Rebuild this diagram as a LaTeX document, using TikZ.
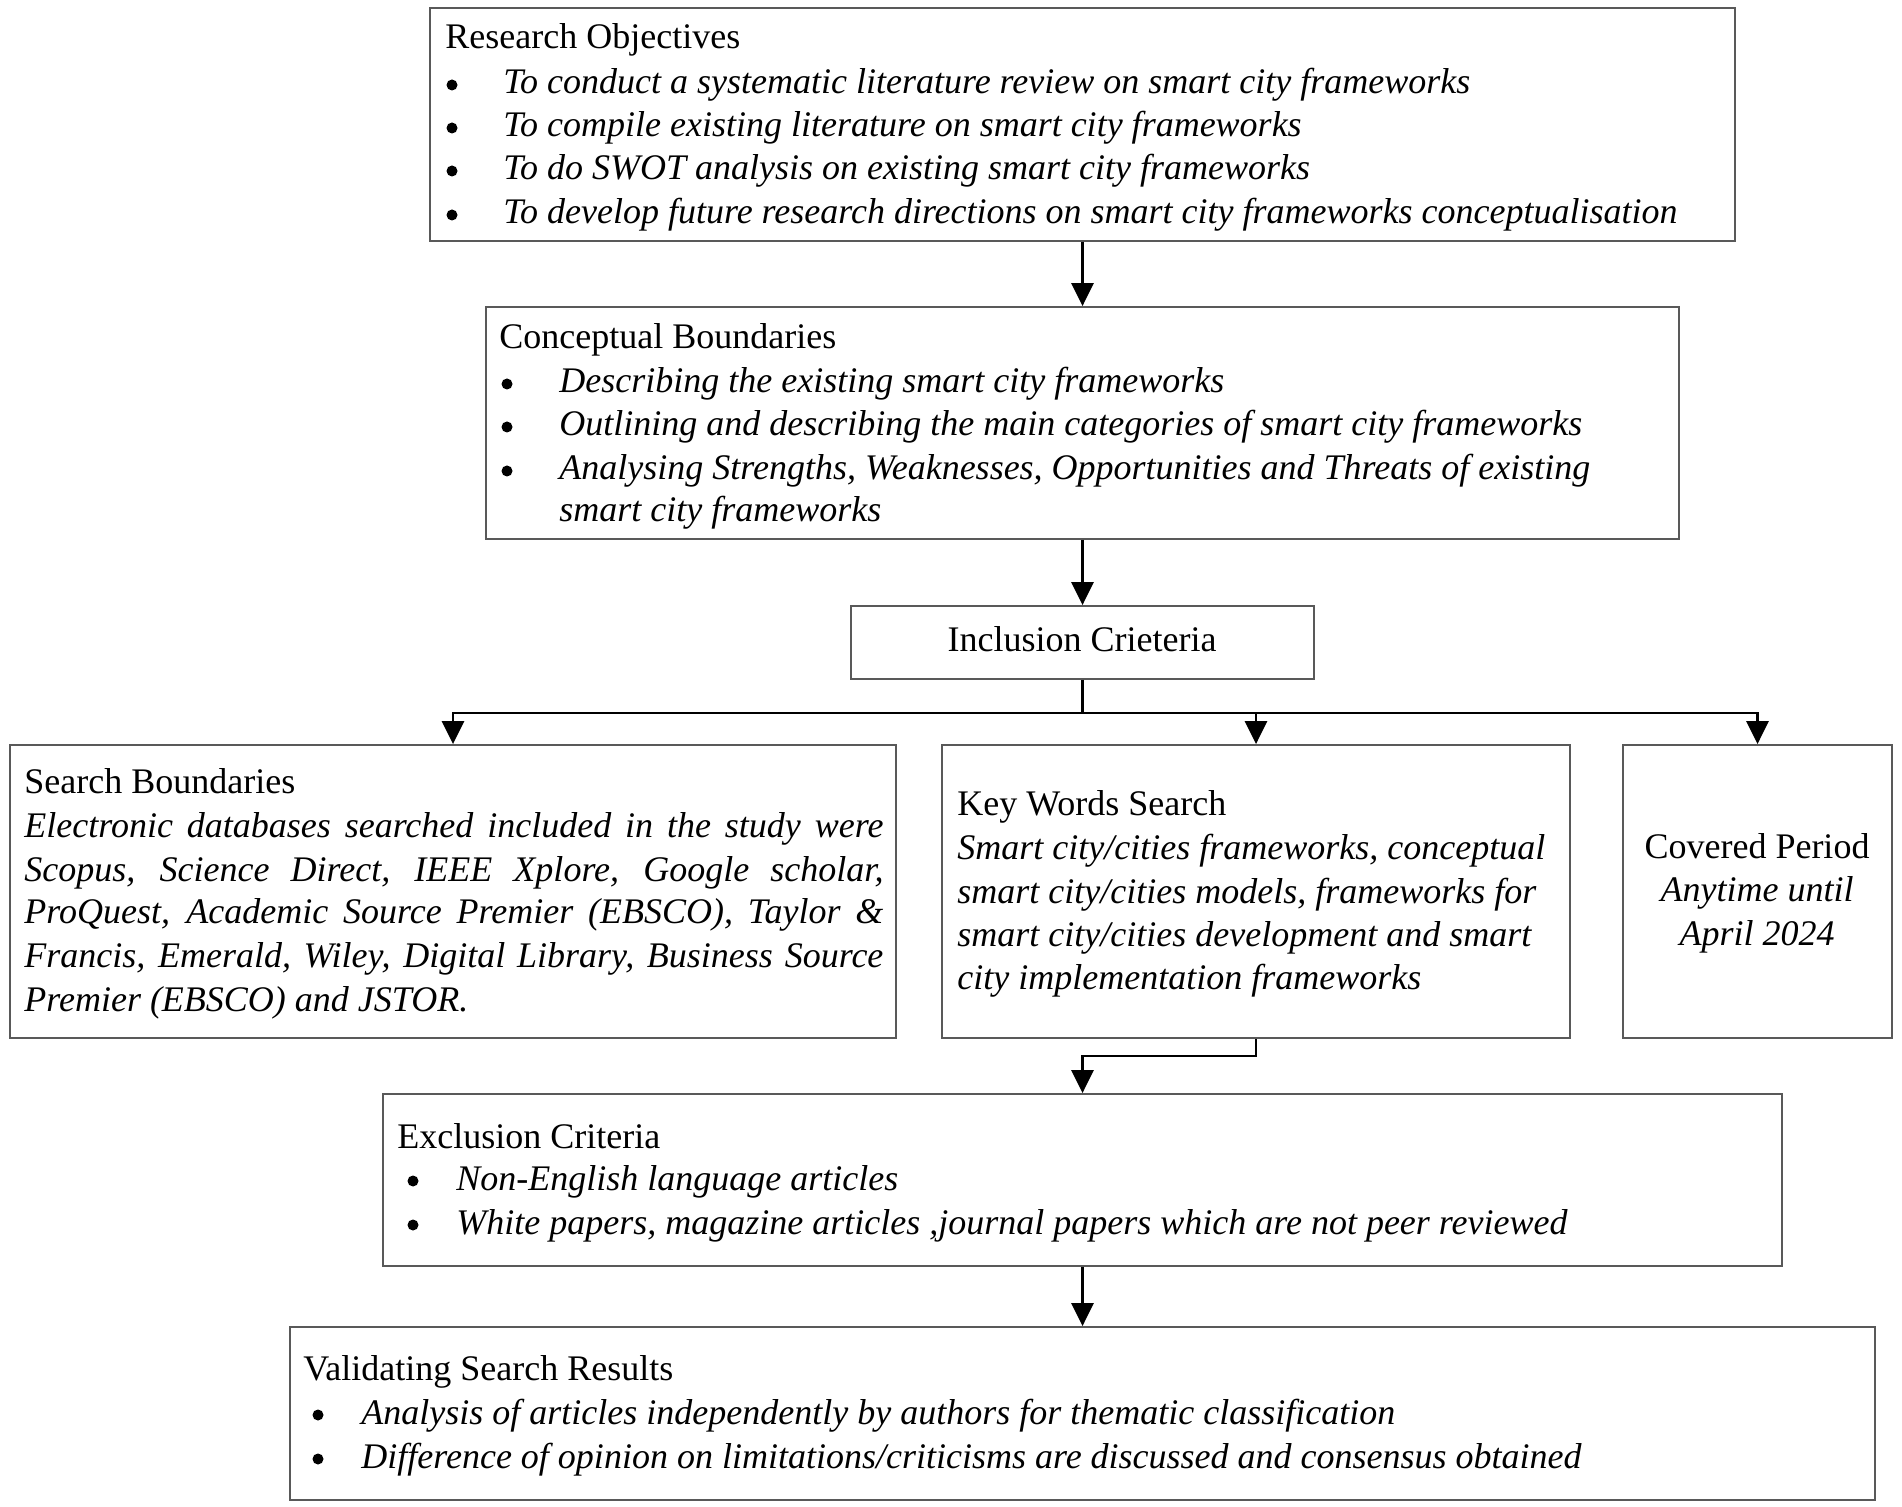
\documentclass[tikz,border=0pt]{standalone}
\usepackage{fontspec}
\setmainfont{Liberation Serif}
\usetikzlibrary{arrows.meta,fit}
\newdimen\uu \uu=0.5pt
\tikzset{
  box/.style={draw=black!65, line width=0.9pt, inner sep=0pt, fill=none},
  ttl/.style={inner sep=0pt, anchor=base west, font=\fontsize{18}{21.75}\selectfont},
  ctr/.style={inner sep=0pt, anchor=base, font=\fontsize{18}{21.75}\selectfont},
  itx/.style={inner sep=0pt, anchor=base west, font=\fontsize{18}{21.75}\selectfont\itshape},
  citx/.style={inner sep=0pt, anchor=base, font=\fontsize{18}{21.75}\selectfont\itshape},
  dot/.style={circle, fill=black, inner sep=0pt, minimum size=11\uu},
  conn/.style={line width=1.4pt, black},
  arr/.style={conn, -{Triangle[length=11.5pt,width=11pt]}}
}
\newcommand\mkbox[3]{\path (#2) coordinate (#1-a) (#3) coordinate (#1-b);
  \node[box, fit=(#1-a)(#1-b)] (#1) {};}
\begin{document}
\begin{tikzpicture}[x=0.5pt,y=-0.5pt]
\useasboundingbox[fill=white] (0,0) rectangle (1902,1507);
% boxes
\mkbox{ro}{430,8}{1735,241}
\mkbox{cb}{486,307}{1679,539}
\mkbox{ic}{851,606}{1314,679}
\mkbox{sb}{10,745}{896,1038}
\mkbox{kw}{942,745}{1570,1038}
\mkbox{cp}{1623,745}{1892,1038}
\mkbox{ec}{383,1094}{1782,1266}
\mkbox{vs}{290,1327}{1875,1500}
% Research Objectives
\node[ttl] (ro-t) at (445,49) {Research Objectives};
\node[dot] (ro-b1) at (452,85) {};
\node[itx] (ro-1) at (503,94) {To conduct a systematic literature review on smart city frameworks};
\node[dot] (ro-b2) at (452,128) {};
\node[itx] (ro-2) at (503,137) {To compile existing literature on smart city frameworks};
\node[dot] (ro-b3) at (452,171) {};
\node[itx] (ro-3) at (503,180) {To do SWOT analysis on existing smart city frameworks};
\node[dot] (ro-b4) at (452,215) {};
\node[itx] (ro-4) at (503,224) {To develop future research directions on smart city frameworks conceptualisation};
% Conceptual Boundaries
\node[ttl] (cb-t) at (499,349) {Conceptual Boundaries};
\node[dot] (cb-b1) at (507,384) {};
\node[itx] (cb-1) at (559,393) {Describing the existing smart city frameworks};
\node[dot] (cb-b2) at (507,427) {};
\node[itx] (cb-2) at (559,436) {Outlining and describing the main categories of smart city frameworks};
\node[dot] (cb-b3) at (507,471) {};
\node[itx] (cb-3) at (559,480) {Analysing Strengths, Weaknesses, Opportunities and Threats of existing};
\node[itx] (cb-4) at (559,522) {smart city frameworks};
% Inclusion
\node[ctr] (ic-t) at (1082,652) {Inclusion Crieteria};
% Search Boundaries
\node[ttl] (sb-t) at (24,794) {Search Boundaries};
\node[itx] (sb-1) at (24,838) {\makebox[859\uu][s]{Electronic databases searched included in the study were}};
\node[itx] (sb-2) at (24,882) {\makebox[859\uu][s]{Scopus, Science Direct, IEEE Xplore, Google scholar,}};
\node[itx] (sb-3) at (24,924) {\makebox[859\uu][s]{ProQuest, Academic Source Premier (EBSCO), Taylor \&}};
\node[itx] (sb-4) at (24,968) {\makebox[859\uu][s]{Francis, Emerald, Wiley, Digital Library, Business Source}};
\node[itx] (sb-5) at (24,1012) {Premier (EBSCO) and JSTOR.};
% Key Words
\node[ttl] (kw-t) at (957,816) {Key Words Search};
\node[itx] (kw-1) at (957,860) {Smart city/cities frameworks, conceptual};
\node[itx] (kw-2) at (957,904) {smart city/cities models, frameworks for};
\node[itx] (kw-3) at (957,947) {smart city/cities development and smart};
\node[itx] (kw-4) at (957,990) {city implementation frameworks};
% Covered Period
\node[ctr] (cp-t) at (1757,859) {Covered Period};
\node[citx] (cp-1) at (1757,902) {Anytime until};
\node[citx] (cp-2) at (1757,946) {April 2024};
% Exclusion
\node[ttl] (ec-t) at (397,1148) {Exclusion Criteria};
\node[dot] (ec-b1) at (413,1181) {};
\node[itx] (ec-1) at (456,1190) {Non-English language articles};
\node[dot] (ec-b2) at (413,1225) {};
\node[itx] (ec-2) at (456,1234) {White papers, magazine articles ,journal papers which are not peer reviewed};
% Validating
\node[ttl] (vs-t) at (303,1380) {Validating Search Results};
\node[dot] (vs-b1) at (318,1415) {};
\node[itx] (vs-1) at (361,1424) {Analysis of articles independently by authors for thematic classification};
\node[dot] (vs-b2) at (318,1459) {};
\node[itx] (vs-2) at (361,1468) {Difference of opinion on limitations/criticisms are discussed and consensus obtained};
% connectors
\draw[arr] (ro.south) -- (cb.north);
\draw[arr] (cb.south) -- (ic.north);
\coordinate (split) at (ic.south |- 0,713);
\draw[conn] (ic.south) -- (split);
\draw[arr] (split) -| (sb.north);
\draw[arr] (split) -| (kw.north);
\draw[arr] (split) -| (cp.north);
\coordinate (elbow) at (kw.south |- 0,1056);
\draw[arr] (kw.south) -- (elbow) -| (ec.north);
\draw[arr] (ec.south) -- (vs.north);
\end{tikzpicture}
\end{document}
